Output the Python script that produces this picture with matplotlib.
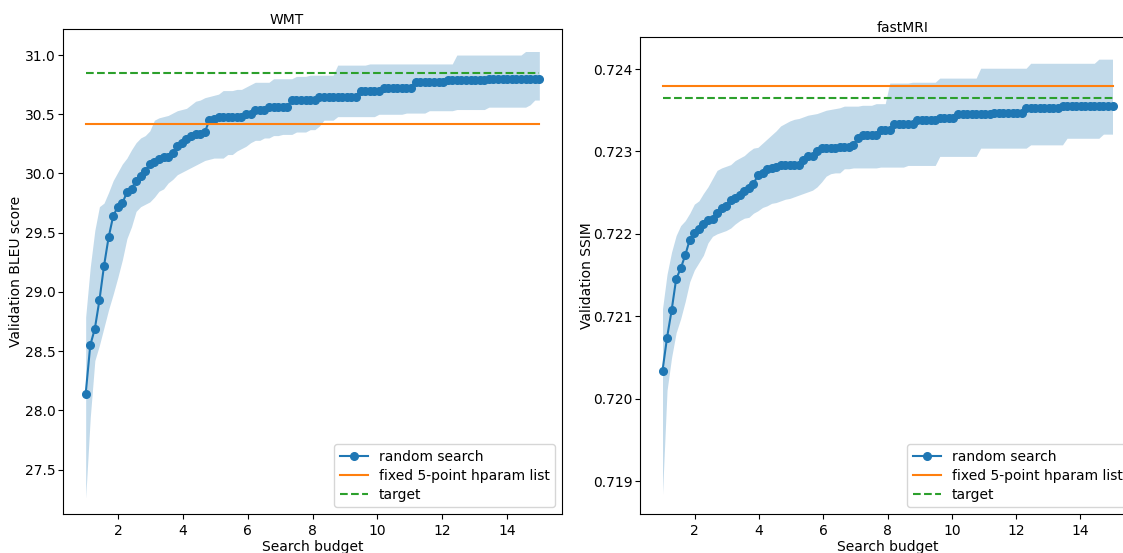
import numpy as np
import matplotlib
matplotlib.use("Agg")
import matplotlib.pyplot as plt

# ---------------- data ----------------
budgets = np.linspace(1, 15, 100)

wmt_mean = [28.14, 28.55, 28.69, 28.93, 29.22, 29.46, 29.64, 29.72, 29.75, 29.84,
            29.87, 29.94, 29.98, 30.02, 30.08, 30.10, 30.12, 30.14, 30.14, 30.17,
            30.23, 30.26, 30.29, 30.32, 30.33, 30.33, 30.35, 30.45, 30.46, 30.48,
            30.48, 30.48, 30.48, 30.48, 30.48, 30.50, 30.50, 30.54, 30.54, 30.54,
            30.56, 30.56, 30.56, 30.56, 30.56, 30.62, 30.62, 30.62, 30.62, 30.62,
            30.62, 30.65, 30.65, 30.65, 30.65, 30.65, 30.65, 30.65, 30.65, 30.65,
            30.70, 30.70, 30.70, 30.70, 30.70, 30.72, 30.72, 30.72, 30.72, 30.72,
            30.72, 30.72, 30.77, 30.77, 30.77, 30.77, 30.77, 30.77, 30.77, 30.79,
            30.79, 30.79, 30.79, 30.79, 30.79, 30.79, 30.79, 30.79, 30.80, 30.80,
            30.80, 30.80, 30.80, 30.80, 30.80, 30.80, 30.80, 30.80, 30.80, 30.80]

wmt_upper = [28.79, 29.21, 29.52, 29.72, 29.75, 29.84, 29.94, 30.01, 30.08, 30.13,
             30.20, 30.26, 30.30, 30.32, 30.36, 30.45, 30.47, 30.48, 30.49, 30.51,
             30.53, 30.54, 30.55, 30.58, 30.61, 30.62, 30.64, 30.65, 30.66, 30.67,
             30.70, 30.70, 30.70, 30.71, 30.71, 30.73, 30.75, 30.77, 30.77, 30.77,
             30.77, 30.80, 30.80, 30.80, 30.80, 30.80, 30.82, 30.82, 30.82, 30.83,
             30.83, 30.83, 30.83, 30.83, 30.83, 30.915, 30.915, 30.915, 30.915, 30.915,
             30.915, 30.915, 30.925, 30.925, 30.925, 30.925, 30.925, 30.925, 30.925, 30.925,
             30.925, 30.925, 30.925, 30.925, 30.925, 30.925, 30.925, 30.925, 30.925, 30.925,
             30.925, 31.00, 31.00, 31.00, 31.00, 31.00, 31.00, 31.00, 31.00, 31.00,
             31.00, 31.00, 31.00, 31.00, 31.00, 31.00, 31.03, 31.03, 31.03, 31.03]

wmt_lower = [27.26, 27.94, 28.42, 28.55, 28.70, 28.85, 28.98, 29.12, 29.27, 29.45,
             29.55, 29.68, 29.72, 29.74, 29.76, 29.80, 29.85, 29.87, 29.92, 29.95,
             29.99, 30.01, 30.03, 30.05, 30.07, 30.09, 30.11, 30.12, 30.13, 30.13,
             30.13, 30.16, 30.16, 30.19, 30.21, 30.23, 30.26, 30.28, 30.28, 30.30,
             30.30, 30.32, 30.32, 30.33, 30.33, 30.33, 30.35, 30.35, 30.35, 30.37,
             30.37, 30.40, 30.45, 30.45, 30.45, 30.48, 30.48, 30.48, 30.48, 30.48,
             30.48, 30.48, 30.48, 30.48, 30.50, 30.50, 30.50, 30.50, 30.50, 30.50,
             30.51, 30.51, 30.51, 30.51, 30.51, 30.53, 30.53, 30.53, 30.53, 30.53,
             30.53, 30.54, 30.54, 30.54, 30.54, 30.54, 30.54, 30.54, 30.56, 30.56,
             30.56, 30.56, 30.56, 30.56, 30.56, 30.56, 30.56, 30.58, 30.62, 30.62]

wmt_fixed = 30.414
wmt_target = 30.85
wmt_ylim = (27.125, 31.22)

mri_mean = [0.72034, 0.72074, 0.72107, 0.72145, 0.72158, 0.72174, 0.72193, 0.72201, 0.72206, 0.72212,
            0.72217, 0.72218, 0.72225, 0.72231, 0.72234, 0.72241, 0.72243, 0.72247, 0.72252, 0.72256,
            0.72260, 0.72272, 0.72274, 0.72279, 0.72280, 0.72281, 0.72284, 0.72284, 0.72284, 0.72284,
            0.72284, 0.72290, 0.72294, 0.72294, 0.72300, 0.72304, 0.72304, 0.72304, 0.72304, 0.72306,
            0.72306, 0.72306, 0.72308, 0.72316, 0.72320, 0.72320, 0.72320, 0.72320, 0.72326, 0.72326,
            0.72326, 0.72333, 0.72333, 0.72333, 0.72333, 0.72333, 0.72338, 0.72338, 0.72338, 0.72338,
            0.72338, 0.72341, 0.72341, 0.72341, 0.72341, 0.72345, 0.72345, 0.72345, 0.72345, 0.72345,
            0.72345, 0.72345, 0.72345, 0.72347, 0.72347, 0.72347, 0.72347, 0.72347, 0.72347, 0.72347,
            0.72353, 0.72353, 0.72353, 0.72353, 0.72353, 0.72353, 0.72353, 0.72353, 0.72355, 0.72355,
            0.72355, 0.72355, 0.72355, 0.72355, 0.72355, 0.72355, 0.72355, 0.72355, 0.72355, 0.72355]

mri_upper = [0.72109, 0.72151, 0.72178, 0.72198, 0.72210, 0.72216, 0.72225, 0.72236, 0.72240, 0.72249,
             0.72257, 0.72267, 0.72277, 0.72280, 0.72282, 0.72284, 0.72289, 0.72292, 0.72295, 0.72300,
             0.72304, 0.72305, 0.72310, 0.72315, 0.72320, 0.72325, 0.72331, 0.72334, 0.72337, 0.72339,
             0.72340, 0.72342, 0.72344, 0.72345, 0.72346, 0.72348, 0.72350, 0.72351, 0.72352, 0.72353,
             0.72355, 0.72355, 0.72355, 0.72355, 0.72356, 0.72356, 0.72356, 0.72358, 0.72358, 0.72358,
             0.72383, 0.72383, 0.72383, 0.72383, 0.72383, 0.72384, 0.72384, 0.72384, 0.72384, 0.72384,
             0.72384, 0.72389, 0.72389, 0.72389, 0.72389, 0.72389, 0.72389, 0.72389, 0.72389, 0.72389,
             0.72401, 0.72401, 0.72401, 0.72401, 0.72401, 0.72401, 0.72401, 0.72401, 0.72401, 0.72401,
             0.72401, 0.72407, 0.72407, 0.72407, 0.72407, 0.72407, 0.72407, 0.72407, 0.72407, 0.72407,
             0.72407, 0.72407, 0.72407, 0.72407, 0.72407, 0.72407, 0.72412, 0.72412, 0.72412, 0.72412]

mri_lower = [0.71884, 0.72010, 0.72050, 0.72080, 0.72097, 0.72118, 0.72142, 0.72156, 0.72165, 0.72174,
             0.72189, 0.72197, 0.72200, 0.72202, 0.72204, 0.72207, 0.72212, 0.72216, 0.72219, 0.72220,
             0.72225, 0.72228, 0.72232, 0.72234, 0.72237, 0.72238, 0.72240, 0.72242, 0.72243, 0.72245,
             0.72247, 0.72249, 0.72251, 0.72253, 0.72257, 0.72263, 0.72270, 0.72273, 0.72274, 0.72274,
             0.72279, 0.72279, 0.72280, 0.72280, 0.72280, 0.72280, 0.72280, 0.72280, 0.72281, 0.72281,
             0.72281, 0.72281, 0.72281, 0.72281, 0.72283, 0.72283, 0.72283, 0.72283, 0.72283, 0.72283,
             0.72283, 0.72294, 0.72294, 0.72294, 0.72294, 0.72294, 0.72294, 0.72294, 0.72294, 0.72294,
             0.72304, 0.72304, 0.72304, 0.72304, 0.72304, 0.72304, 0.72304, 0.72304, 0.72304, 0.72304,
             0.72304, 0.72308, 0.72308, 0.72308, 0.72308, 0.72308, 0.72308, 0.72308, 0.72308, 0.72316,
             0.72316, 0.72316, 0.72316, 0.72316, 0.72316, 0.72316, 0.72316, 0.72321, 0.72321, 0.72321]

mri_fixed = 0.723797
mri_target = 0.723651
mri_ylim = (0.7186, 0.724389)

titles = ["WMT", "fastMRI"]
ylabels = ["Validation BLEU score", "Validation SSIM"]
xlabel = "Search budget"
legend_labels = ["random search", "fixed 5-point hparam list", "target"]

# ---------------- plot ----------------
plt.rcParams['font.family'] = ['DejaVu Sans']
FS = 10
W, H = 1123, 553
fig = plt.figure(figsize=(W / 100, H / 100), dpi=100)

ax1 = fig.add_axes([63 / W, (H - 514) / H, (562 - 63) / W, (514 - 29) / H])
ax2 = fig.add_axes([640 / W, (H - 514) / H, (1135 - 640) / W, (514 - 37) / H])

panels = [
    (ax1, wmt_mean, wmt_lower, wmt_upper, wmt_fixed, wmt_target, wmt_ylim, 0.448, -0.080),
    (ax2, mri_mean, mri_lower, mri_upper, mri_fixed, mri_target, mri_ylim, 0.531, -0.092),
]

for k, (ax, mean, lo, hi, fixed, target, ylim, tx, lx) in enumerate(panels):
    xr = [budgets[0], budgets[-1]]
    ax.fill_between(budgets, lo, hi, color='C0', alpha=0.27, linewidth=0)
    ax.plot(budgets, mean, color='C0', marker='o', markersize=5.5, lw=1.5,
            label=legend_labels[0])
    ax.plot(xr, [fixed, fixed], color='C1', lw=1.5, label=legend_labels[1])
    ax.plot(xr, [target, target], color='C2', lw=1.5, ls='--', label=legend_labels[2])
    ax.set_ylim(*ylim)
    ax.set_title(titles[k], fontsize=FS, x=tx, pad=3.5)
    ax.set_xlabel(xlabel, fontsize=FS, labelpad=2)
    ax.set_ylabel(ylabels[k], fontsize=FS)
    ax.yaxis.set_label_coords(lx, 0.5)
    ax.tick_params(labelsize=FS)
    ax.tick_params(axis='y', pad=2)
    ax.ticklabel_format(axis='y', useOffset=False)
    ax.legend(loc='lower right', fontsize=FS, labelspacing=0.35)

fig.savefig("out.png", dpi=100)
